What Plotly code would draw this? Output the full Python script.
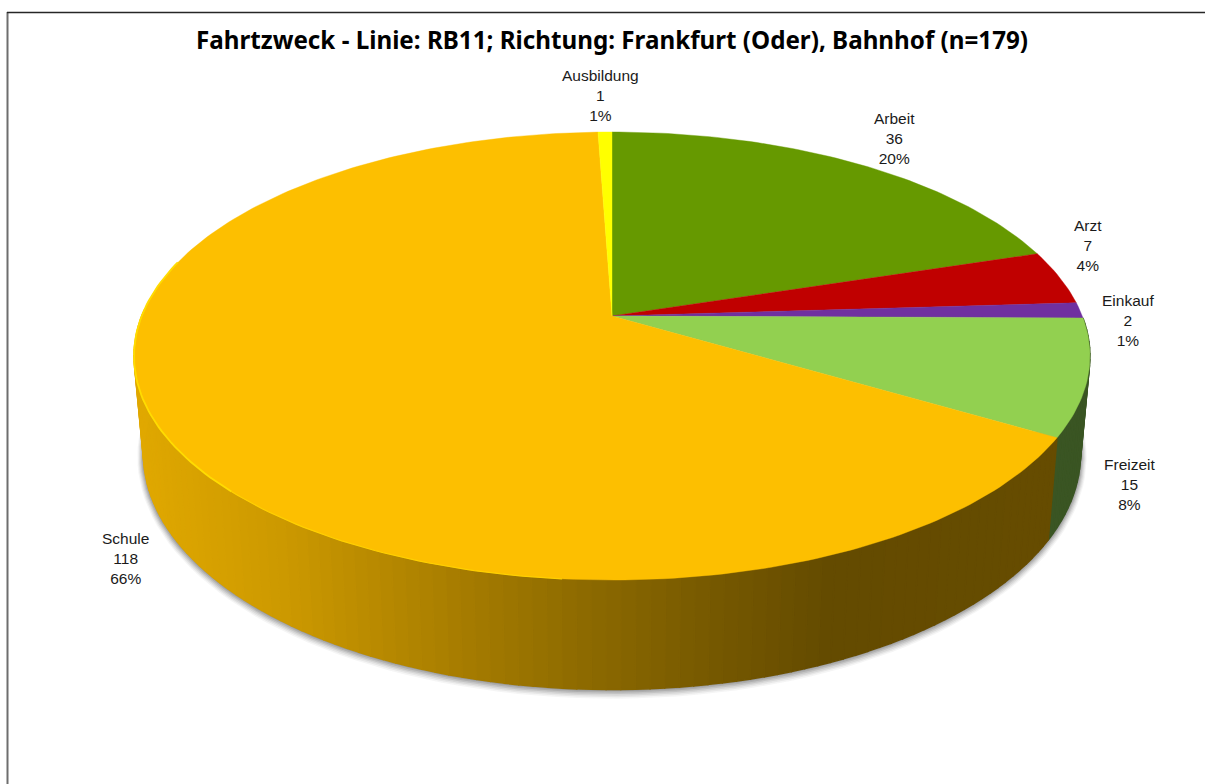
import math
import plotly.graph_objects as go

# ---- data
CATEGORIES = ["Arbeit", "Arzt", "Einkauf", "Freizeit", "Schule", "Ausbildung"]
VALUES = [36, 7, 2, 15, 118, 1]
TITLE = "Fahrtzweck - Linie: RB11; Richtung: Frankfurt (Oder), Bahnhof (n=179)"

# ---- style
TOP_COLORS = ["#669900", "#C00000", "#7030A0", "#92D050", "#FDBF00", "#FFFF00"]
WALL_BASE = {"Freizeit": [(0, (58, 85, 35)), (2000, (58, 85, 35))]}
SCHULE_RAMP = [(135, (224, 168, 0)), (280, (204, 153, 0)), (480, (162, 121, 0)),
               (600, (138, 104, 0)), (700, (120, 90, 0)), (830, (100, 75, 0)), (1060, (102, 76, 0))]
LABEL_XY = [(894, 138), (1088, 245), (1128, 320), (1130, 484), (125, 558), (600, 95)]
FONT = "Liberation Sans"
TITLE_FONT = "Noto Sans"

# ---- projection of a flat disc seen in perspective
CX, K = 612.0, 0.1786
TOP = dict(cy=316.0, a=470.3, b=216.9)
BOT = dict(cy=412.0, a=461.0, b=228.0)


def project(theta_deg, plane, scale=1.0):
    t = math.radians(theta_deg)
    u, v = math.sin(t), -math.cos(t)
    w = 1 - K * v
    return CX + plane["a"] * scale * u / w, plane["cy"] + plane["b"] * scale * v / w


def frange(a, b, step):
    n = max(1, int(round((b - a) / step)))
    return [a + (b - a) * i / n for i in range(n + 1)]


def ramp_color(x, ramp):
    if x <= ramp[0][0]:
        c = ramp[0][1]
    elif x >= ramp[-1][0]:
        c = ramp[-1][1]
    else:
        for (x0, c0), (x1, c1) in zip(ramp, ramp[1:]):
            if x0 <= x <= x1:
                f = (x - x0) / (x1 - x0)
                c = tuple(c0[i] + (c1[i] - c0[i]) * f for i in range(3))
                break
    return "rgb(%d,%d,%d)" % tuple(round(i) for i in c)


total = sum(VALUES)
edges = [0.0]
for val in VALUES:
    edges.append(edges[-1] + 360.0 * val / total)

fig = go.Figure()


def poly(xs, ys, color, lw=0.6, linecolor=None):
    fig.add_trace(go.Scatter(x=xs, y=ys, mode="lines", fill="toself", fillcolor=color,
                             line=dict(color=linecolor or color, width=lw),
                             hoverinfo="skip", showlegend=False))


# soft shadow under the disc
for d, alpha in [(6, 0.05), (5, 0.07), (4, 0.09), (3, 0.12), (2, 0.15), (1, 0.18)]:
    pl = dict(cy=BOT["cy"] + 0.3 * d, a=BOT["a"] + d, b=BOT["b"] + d)
    pts = [project(t, pl) for t in frange(95, 272, 2)]
    poly([p[0] for p in pts], [p[1] for p in pts], "rgba(60,60,60,%.2f)" % alpha, lw=0)

# side walls, one thin strip per step
for i, cat in enumerate(CATEGORIES):
    lo, hi = max(edges[i], 60), min(edges[i + 1], 272)
    if hi <= lo:
        continue
    ramp = SCHULE_RAMP if cat == "Schule" else WALL_BASE.get(cat)
    if ramp is None:
        continue
    ts = frange(lo, hi, 1.5)
    for t0, t1 in zip(ts, ts[1:]):
        a, b = project(t0, TOP), project(t1, TOP)
        c, d = project(t1, BOT), project(t0, BOT)
        col = ramp_color((a[0] + b[0]) / 2, ramp)
        poly([a[0], b[0], c[0], d[0], a[0]], [a[1], b[1], c[1], d[1], a[1]], col, lw=1.4)

# top faces
for i, cat in enumerate(CATEGORIES):
    pts = [project(t, TOP) for t in frange(edges[i], edges[i + 1], 1.0)]
    xs = [CX] + [p[0] for p in pts] + [CX]
    ys = [TOP["cy"]] + [p[1] for p in pts] + [TOP["cy"]]
    poly(xs, ys, TOP_COLORS[i], lw=0.4)

# lit rim along the front left of the largest slice
for lo, hi, col, w in [(185, 225, "#FFD000", 1.2), (225, 285, "#FFDC00", 1.8)]:
    pts = [project(t, TOP) for t in frange(lo, hi, 1.0)]
    fig.add_trace(go.Scatter(x=[p[0] for p in pts], y=[p[1] for p in pts], mode="lines",
                             line=dict(color=col, width=w), hoverinfo="skip", showlegend=False))

annotations = [
    dict(x=LABEL_XY[i][0], y=LABEL_XY[i][1], xref="x", yref="y", showarrow=False,
         text="%s<br>%d<br>%d%%" % (cat, VALUES[i], round(100 * VALUES[i] / total)),
         font=dict(family=FONT, size=15.5, color="#1a1a1a"), align="center")
    for i, cat in enumerate(CATEGORIES)
]
annotations.append(dict(x=612, y=39, xref="x", yref="y", showarrow=False, text="<b>%s</b>" % TITLE,
                        font=dict(family=TITLE_FONT, size=24.2, color="#000000")))

fig.update_layout(
    width=1205, height=784, margin=dict(l=0, r=0, t=0, b=0),
    paper_bgcolor="white", plot_bgcolor="white", showlegend=False,
    xaxis=dict(range=[0, 1205], visible=False, fixedrange=True),
    yaxis=dict(range=[784, 0], visible=False, fixedrange=True),
    annotations=annotations,
    shapes=[
        dict(type="line", xref="x", yref="y", x0=7.5, x1=7.5, y0=12, y1=784,
             line=dict(color="#6e6e6e", width=2)),
        dict(type="line", xref="x", yref="y", x0=7, x1=1205, y0=12.5, y1=12.5,
             line=dict(color="#262626", width=1.5)),
    ],
)

fig.write_html("out.html", config=dict(displayModeBar=False),
               post_script="document.body.style.margin='0';document.body.style.overflow='hidden';")
